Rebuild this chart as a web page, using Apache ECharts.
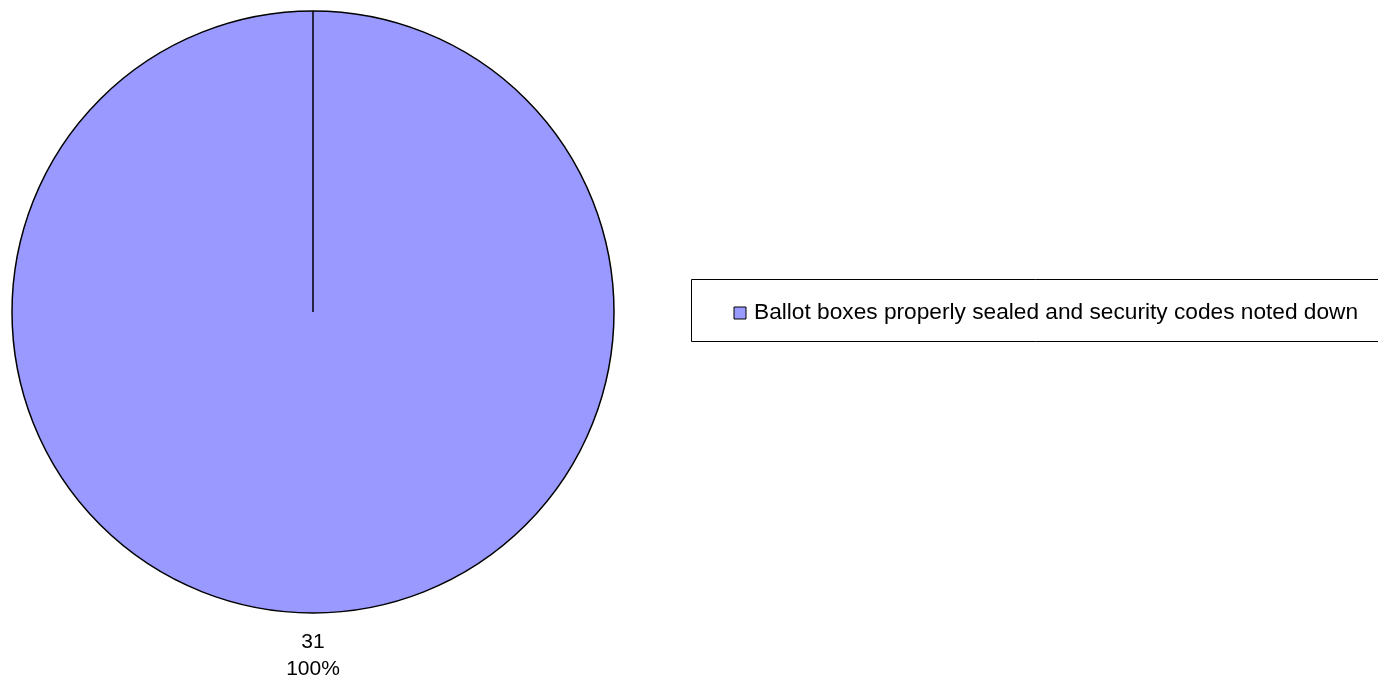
<!DOCTYPE html>
<html>
<head>
<meta charset="utf-8">
<script src="https://cdn.jsdelivr.net/npm/echarts@6/dist/echarts.min.js"></script>
<style>
html,body{margin:0;padding:0;background:#fff;}
#chart{width:1378px;height:680px;}
</style>
</head>
<body>
<div id="chart"></div>
<script>
var categories = ['Ballot boxes properly sealed and security codes noted down'];
var values = [31];
var colors = ['#9999FF'];

var CX = 313, CY = 312, R = 301;

var chart = echarts.init(document.getElementById('chart'), null, {renderer: 'canvas'});
chart.setOption({
  animation: false,
  backgroundColor: '#ffffff',
  color: colors,
  legend: {
    show: true,
    data: categories,
    left: 691.5,
    top: 279.5,
    orient: 'vertical',
    padding: [22, 40, 17, 42],
    borderColor: '#000',
    borderWidth: 1,
    itemWidth: 12,
    itemHeight: 12,
    icon: 'rect',
    itemStyle: {borderColor: '#000', borderWidth: 1},
    selectedMode: false,
    textStyle: {
      fontFamily: 'Liberation Sans, Arial, sans-serif',
      fontSize: 22.7,
      lineHeight: 22,
      color: '#000',
      padding: [0, 0, 0, 3]
    }
  },
  series: [{
    type: 'pie',
    center: [CX, CY],
    radius: [0, R],
    startAngle: 90,
    clockwise: true,
    silent: true,
    emphasis: {disabled: true},
    itemStyle: {borderColor: '#000', borderWidth: 1.5},
    label: {
      show: true,
      position: 'inside',
      offset: [0, 190],
      formatter: function (p) { return p.value + '\n' + Math.round(p.percent) + '%'; },
      fontFamily: 'Liberation Sans, Arial, sans-serif',
      fontSize: 21,
      lineHeight: 27,
      color: '#000'
    },
    labelLine: {show: false},
    data: categories.map(function (c, i) { return {name: c, value: values[i]}; })
  }],
  graphic: [{
    type: 'line',
    z: 100,
    shape: {x1: CX, y1: CY, x2: CX, y2: CY - R},
    style: {stroke: '#000', lineWidth: 1.5}
  }]
});
</script>
</body>
</html>
